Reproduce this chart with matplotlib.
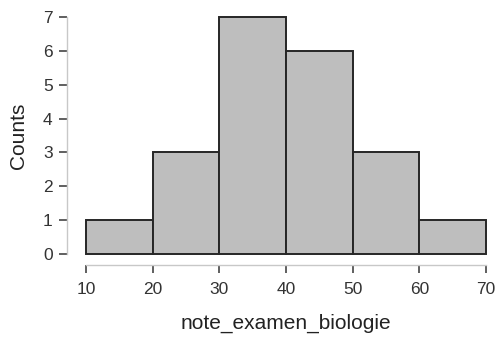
import matplotlib.pyplot as plt
import numpy as np

plt.rcParams['font.family'] = ['Liberation Sans', 'DejaVu Sans']

bin_edges = [10, 20, 30, 40, 50, 60, 70]
counts = [1, 3, 7, 6, 3, 1]
y_ticks = [0, 1, 2, 3, 4, 5, 6, 7]
x_ticks = [10, 20, 30, 40, 50, 60, 70]

fig = plt.figure(figsize=(4.98, 3.37), dpi=100)
ax = fig.add_axes([0.1727, 0.2463, 0.8032, 0.7033])

left = np.array(bin_edges[:-1])
widths = np.diff(bin_edges)
ax.bar(left, counts, width=widths, align='edge', color='#bebebe',
       edgecolor='#262626', linewidth=1.4, clip_on=False)

ax.set_xlim(10, 70)
ax.set_ylim(0, 7)
ax.set_xticks(x_ticks)
ax.set_yticks(y_ticks)

for side in ['top', 'right']:
    ax.spines[side].set_visible(False)
ax.spines['left'].set_position(('outward', 14))
ax.spines['bottom'].set_position(('outward', 8))
ax.spines['left'].set_bounds(0, 7)
ax.spines['bottom'].set_bounds(10, 70)
for side in ['left', 'bottom']:
    ax.spines[side].set_color('#c8c8c8')
    ax.spines[side].set_linewidth(1.0)

ax.tick_params(axis='both', length=6, width=1.2, color='#444444',
               labelsize=12.5, labelcolor='#333333')
ax.tick_params(axis='x', pad=6)
ax.tick_params(axis='y', pad=4)

ax.set_xlabel('note_examen_biologie', fontsize=15, color='#222222', labelpad=12)
ax.set_ylabel('Counts', fontsize=15, color='#222222', labelpad=11)

fig.savefig('out.png', dpi=100)
